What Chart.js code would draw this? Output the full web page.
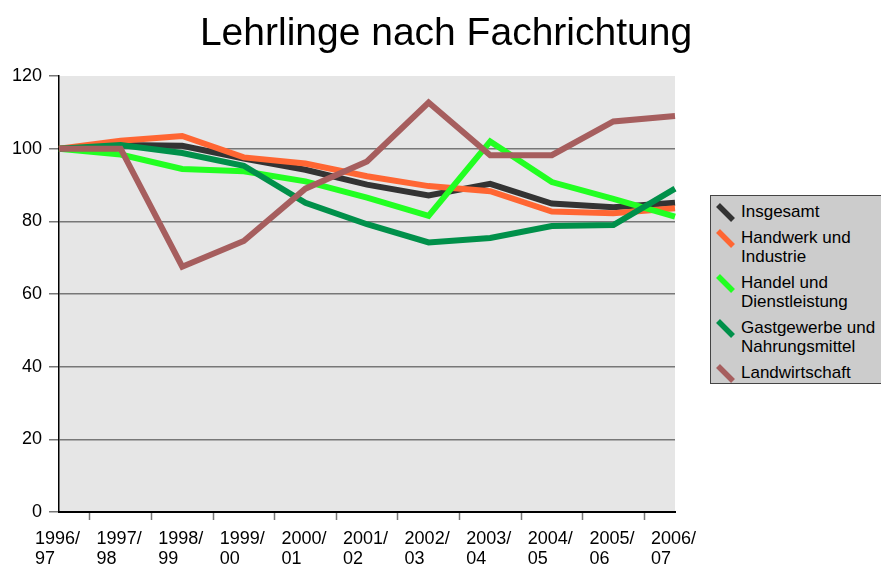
<!DOCTYPE html>
<html>
<head>
<meta charset="utf-8">
<script src="https://cdn.jsdelivr.net/npm/chart.js@4.4.1/dist/chart.umd.min.js"></script>
<style>
  html, body { margin: 0; padding: 0; background: #fff; }
  #wrap { position: relative; width: 881px; height: 566px; overflow: hidden; }
  #title {
    position: absolute; left: 0; top: 9px; width: 892px; text-align: center;
    font-family: "Liberation Sans", Arial, sans-serif; font-size: 39px; line-height: 45px; color: #000;
  }
  #legend {
    position: absolute; left: 710px; top: 195px; width: 175px; height: 189px;
    box-sizing: border-box; background: #cccccc; border: 1px solid #444;
    font-family: "Liberation Sans", Arial, sans-serif; font-size: 17px; color: #000;
    padding-top: 6px;
  }
  .item { position: relative; padding-left: 30px; line-height: 19.5px; margin-bottom: 6px; }
  .item svg { position: absolute; left: 4px; top: 0px; }
</style>
</head>
<body>
<div id="wrap">
  <canvas id="chart" width="881" height="566"></canvas>
  <div id="title">Lehrlinge nach Fachrichtung</div>
  <div id="legend"></div>
</div>
<script>
// school years on the x axis
var categories = ['1996/97', '1997/98', '1998/99', '1999/00', '2000/01', '2001/02',
                  '2002/03', '2003/04', '2004/05', '2005/06', '2006/07'];

// index, 1996/97 = 100
var insgesamt      = [100, 101, 100.8, 97.3, 94.2, 90.1, 87.1, 90.3, 84.9, 83.9, 85.1];
var handwerk       = [100, 102.2, 103.5, 97.6, 95.9, 92.4, 89.7, 88.3, 82.7, 82.2, 83.6];
var handel         = [100, 98.4, 94.4, 93.8, 91, 86.5, 81.5, 102, 90.8, 86.2, 81.3];
var gastgewerbe    = [100, 101, 98.8, 95.3, 85.1, 79.2, 74.2, 75.4, 78.7, 79, 89];
var landwirtschaft = [100, 100, 67.5, 74.6, 89, 96.5, 112.7, 98.2, 98.2, 107.5, 109];

var names  = ['Insgesamt', 'Handwerk und\nIndustrie', 'Handel und\nDienstleistung',
              'Gastgewerbe und\nNahrungsmittel', 'Landwirtschaft'];
var colors = ['#333333', '#ff6633', '#22ff22', '#00904a', '#a65e5e'];
var values = [insgesamt, handwerk, handel, gastgewerbe, landwirtschaft];

var yTicks = [0, 20, 40, 60, 80, 100, 120];

var plotBg = {
  id: 'plotBg',
  beforeDraw: function(chart) {
    var a = chart.chartArea, c = chart.ctx;
    c.save();
    c.fillStyle = '#e6e6e6';
    c.fillRect(a.left, a.top, a.right - a.left, a.bottom - a.top);
    c.restore();
  }
};

var datasets = values.map(function(v, i) {
  return {
    label: names[i],
    data: v,
    borderColor: colors[i],
    backgroundColor: colors[i],
    borderWidth: 6,
    pointRadius: 0,
    tension: 0,
    fill: false,
    borderJoinStyle: 'miter',
    borderCapStyle: 'butt',
    order: values.length - i
  };
});

var font = 'Liberation Sans, Arial, sans-serif';

new Chart(document.getElementById('chart'), {
  type: 'line',
  data: { labels: categories, datasets: datasets },
  plugins: [plotBg],
  options: {
    responsive: false,
    animation: false,
    layout: { padding: { left: 0, right: 206, top: 76, bottom: 0 } },
    plugins: {
      legend: { display: false },
      tooltip: { enabled: false },
      title: { display: false }
    },
    scales: {
      x: {
        offset: false,
        afterFit: function(s) { s.height = 54; },
        border: { display: true, color: '#000', width: 2 },
        grid: { offset: true, drawOnChartArea: false, drawTicks: true, tickLength: 8, tickColor: '#777', tickWidth: 1.5 },
        ticks: {
          color: '#000',
          font: { family: font, size: 18, lineHeight: 1.13 },
          align: 'start',
          labelOffset: -24,
          padding: 9,
          maxRotation: 0,
          autoSkip: false,
          callback: function(val, i) {
            var s = categories[i];
            var k = s.indexOf('/');
            return [s.slice(0, k + 1), s.slice(k + 1)];
          }
        }
      },
      y: {
        min: 0,
        max: 120,
        afterFit: function(s) { s.width = 59; },
        afterBuildTicks: function(s) { s.ticks = yTicks.map(function(v) { return { value: v }; }); },
        border: { display: true, color: '#000', width: 1.5 },
        grid: {
          color: function(ctx) { return (ctx.tick && (ctx.tick.value === 0 || ctx.tick.value === 120)) ? 'rgba(0,0,0,0)' : '#777'; },
          tickColor: '#777',
          lineWidth: 1.5,
          tickLength: 10,
          drawTicks: true
        },
        ticks: {
          color: '#000',
          font: { family: font, size: 18 },
          padding: 7
        }
      }
    }
  }
});

// legend built from the same series
var leg = document.getElementById('legend');
names.forEach(function(n, i) {
  var d = document.createElement('div');
  d.className = 'item';
  d.innerHTML = '<svg width="22" height="22"><line x1="3" y1="3" x2="18" y2="18" stroke="' + colors[i] +
    '" stroke-width="5.5"/></svg>' + n.replace('\n', '<br>');
  leg.appendChild(d);
});
</script>
</body>
</html>
